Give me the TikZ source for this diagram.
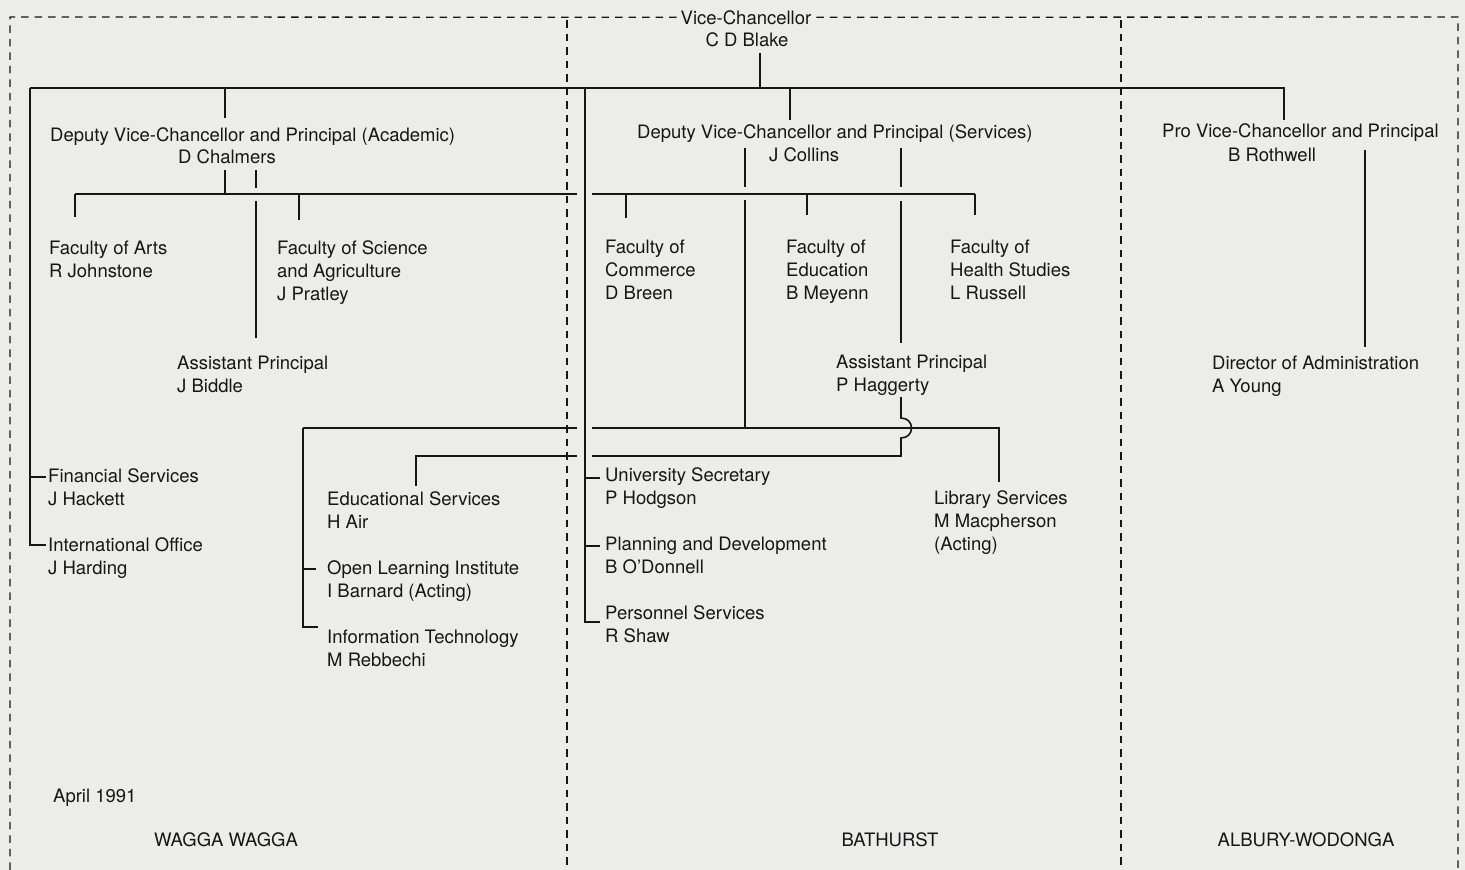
\documentclass[tikz,border=0pt]{standalone}
\usepackage{fontspec}
\setmainfont{TeX Gyre Heros}
\definecolor{paper}{RGB}{236,236,233}
\definecolor{ink}{RGB}{22,22,22}
\newcommand{\stk}[1]{\begin{tabular}[t]{@{}l@{}}#1\end{tabular}}
\begin{document}
\begin{tikzpicture}[x=1pt,y=-1pt,
  lbl/.style={inner sep=0pt, anchor=base west, text=ink, font=\fontsize{18.5}{23}\selectfont},
  clbl/.style={inner sep=0pt, anchor=base, text=ink, font=\fontsize{18.5}{23}\selectfont},
  wire/.style={draw=ink, line width=1.6pt, line cap=butt, line join=miter},
  frame/.style={draw=ink, line width=1.3pt, dash pattern=on 7.5pt off 6pt}]
\fill[paper] (0,0) rectangle (1465,870);
\useasboundingbox (0,0) rectangle (1465,870);

% ---------- texts ----------
\node[clbl] (vc) at (746,24) {Vice-Chancellor};
\node[clbl] (vcN) at (747,46.5) {C D Blake};
\node[lbl] (dvca) at (50,141) {Deputy Vice-Chancellor and Principal (Academic)};
\node[lbl] (dvcaN) at (178,163.5) {D Chalmers};
\node[lbl] (dvcs) at (637,138.5) {Deputy Vice-Chancellor and Principal (Services)};
\node[lbl] (dvcsN) at (769,161.5) {J Collins};
\node[lbl] (pvc) at (1162,137) {Pro Vice-Chancellor and Principal};
\node[lbl] (pvcN) at (1228,161.5) {B Rothwell};

\node[lbl] (arts) at (49,254) {\stk{Faculty of Arts\\R Johnstone}};
\node[lbl] (sci) at (277,254) {\stk{Faculty of Science\\and Agriculture\\J Pratley}};
\node[lbl] (biddle) at (177,369) {\stk{Assistant Principal\\J Biddle}};
\node[lbl] (fin) at (48,482.5) {\stk{Financial Services\\J Hackett}};
\node[lbl] (intl) at (48,551.5) {\stk{International Office\\J Harding}};
\node[lbl] (edu) at (327,505.5) {\stk{Educational Services\\H Air}};
\node[lbl] (oli) at (327,574.5) {\stk{Open Learning Institute\\I Barnard (Acting)}};
\node[lbl] (it) at (327,643.5) {\stk{Information Technology\\M Rebbechi}};
\node[lbl] (april) at (53,802) {April 1991};
\node[clbl] (wagga) at (226,846.5) {WAGGA WAGGA};

\node[lbl] (comm) at (605,253.5) {\stk{Faculty of\\Commerce\\D Breen}};
\node[lbl] (educ) at (786,253.5) {\stk{Faculty of\\Education\\B Meyenn}};
\node[lbl] (health) at (950,253.5) {\stk{Faculty of\\Health Studies\\L Russell}};
\node[lbl] (hagg) at (836,368) {\stk{Assistant Principal\\P Haggerty}};
\node[lbl] (usec) at (605,481.5) {\stk{University Secretary\\P Hodgson}};
\node[lbl] (plan) at (605,550.5) {\stk{Planning and Development\\B O'Donnell}};
\node[lbl] (pers) at (605,619.5) {\stk{Personnel Services\\R Shaw}};
\node[lbl] (lib) at (934,504.5) {\stk{Library Services\\M Macpherson\\(Acting)}};
\node[clbl] (bathurst) at (890,846.5) {BATHURST};

\node[lbl] (dir) at (1212,369.5) {\stk{Director of Administration\\A Young}};
\node[clbl] (albury) at (1306,846.5) {ALBURY-WODONGA};

% ---------- campus frame (dashed) ----------
\draw[frame] ([xshift=-4pt]vc.west) -- (10,17) -- (10,870);
\draw[frame] ([xshift=5pt]vc.east) -- (1458,17) -- (1458,870);
\draw[frame] (567,20) -- (567,870);
\draw[frame] (1121,20) -- (1121,870);

% ---------- junction coordinates ----------
\coordinate (vcA) at (760,53);
\coordinate (vcB) at (760,88);
\coordinate (topL) at (30,88);
\coordinate (topR) at (1284,88);
\coordinate (pvcT) at (1284,120);
\coordinate (dvcaA) at (225,88);
\coordinate (dvcaT) at (225,118);
\coordinate (dvcsA) at (790,88);
\coordinate (dvcsT) at (790,120);
\coordinate (chA) at (225,170);
\coordinate (chB) at (225,194);
\coordinate (facL) at (75,194);
\coordinate (facR) at (975,194);
\coordinate (vcdA) at (585,88);
\coordinate (vcdB) at (585,622);
\coordinate (colL) at (745,148);
\coordinate (colR) at (901,148);
\coordinate (haggB) at (901,397);
\coordinate (fsL) at (303,428);
\coordinate (fsR) at (999,428);
\coordinate (ysL) at (416,456);
\coordinate (rotA) at (1365,150);

% ---------- connectors ----------
\draw[wire] (vcA) -- (vcB);
\draw[wire] (topL) -- (topR) -- (pvcT);
\draw[wire] (topL) -- (30,545) -- (46,545);
\draw[wire] (30,477) -- (46,477);
\draw[wire] (dvcaA) -- (dvcaT);
\draw[wire] (dvcsA) -- (dvcsT);
\draw[wire] (rotA) -- (1365,347);

% faculties bar (from D Chalmers)
\draw[wire] (chA) -- (chB);
\draw[wire] (facL) -- (577,194);
\draw[wire] (592,194) -- (facR);
\draw[wire] (facL) -- (75,217);
\draw[wire] (299,194) -- (299,220);
\draw[wire] (626,194) -- (626,218);
\draw[wire] (807,194) -- (807,215);
\draw[wire] (facR) -- (975,215);

% D Chalmers -> J Biddle (crossing)
\draw[wire] (256,170) -- (256,188);
\draw[wire] (256,201) -- (256,338);

% Vice-Chancellor direct line
\draw[wire] (vcdA) -- (vcdB) -- (600,622);
\draw[wire] (585,478) -- (600,478);
\draw[wire] (585,546) -- (600,546);

% J Collins left line
\draw[wire] (colL) -- (745,187);
\draw[wire] (745,200) -- (745,428);
\draw[wire] (fsL) -- (577,428);
\draw[wire] (592,428) -- (fsR) -- (999,482);
\draw[wire] (fsL) -- (303,627) -- (318,627);
\draw[wire] (303,569) -- (316,569);

% J Collins right line -> P Haggerty
\draw[wire] (colR) -- (901,187);
\draw[wire] (901,201) -- (901,343);

% P Haggerty -> Educational Services (with hop)
\draw[wire] (haggB) -- (901,418) .. controls (915,418) and (915,438) .. (901,438) -- (901,456) -- (592,456);
\draw[wire] (577,456) -- (ysL) -- (416,486);
\end{tikzpicture}
\end{document}
